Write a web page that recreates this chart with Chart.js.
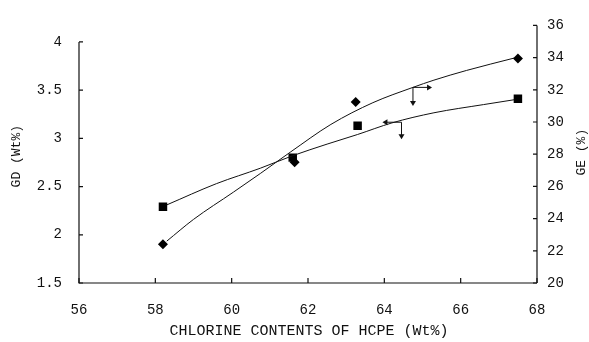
<!DOCTYPE html>
<html><head><meta charset="utf-8">
<script src="https://cdn.jsdelivr.net/npm/chart.js@4/dist/chart.umd.min.js"></script>
<style>html,body{margin:0;padding:0;background:#fff}#wrap{width:589px;height:342px;position:relative}</style>
</head><body><div id="wrap"><canvas id="c"></canvas></div>
<script>
// ---- data ----
const chlorineGD = [58.2, 61.6, 63.3, 67.5];
const gdValues   = [2.29, 2.80, 3.13, 3.41];
const chlorineGE = [58.2, 61.65, 63.25, 67.5];
const geValues   = [22.4, 27.5, 31.25, 33.95];
// trend curves
const gdTrendX = [58.3, 59.6, 60.75, 61.6, 62.5, 63.3, 64.2, 65.3, 66.6, 67.4];
const gdTrendY = [2.31, 2.53, 2.69, 2.82, 2.94, 3.04, 3.16, 3.265, 3.35, 3.40];
const geTrendX = [58.3, 59.0, 60.05, 60.75, 61.55, 62.6, 63.7, 64.75, 65.3, 66.15, 67.4];
const geTrendY = [22.6, 23.95, 25.65, 26.8, 28.15, 29.85, 31.2, 32.15, 32.6, 33.2, 33.97];
// axis ticks
const xTicks  = [56, 58, 60, 62, 64, 66, 68];
const gdTicks = [1.5, 2, 2.5, 3, 3.5, 4];
const geTicks = [20, 22, 24, 26, 28, 30, 32, 34, 36];
// texts
const xTitle  = 'CHLORINE CONTENTS OF HCPE (Wt%)';
const gdTitle = 'GD (Wt%)';
const geTitle = 'GE (%)';
// axis-pointer arrows (data units)
const gdArrowX = [64.45, 63.95];  // vertical x, horizontal end x
const gdArrowY = [3.167, 2.99];   // level, bottom
const geArrowX = [64.75, 65.25];
const geArrowY = [32.15, 31.0];

const FONT = "'Liberation Mono', 'DejaVu Sans Mono', monospace";
const INK = '#111';

const pts = (xs, ys) => xs.map((x, i) => ({x, y: ys[i]}));

function arrowHead(ctx, x, y, dir) {
  const L = 5, W = 3;
  ctx.beginPath();
  if (dir === 'down') { ctx.moveTo(x, y); ctx.lineTo(x - W, y - L); ctx.lineTo(x + W, y - L); }
  if (dir === 'left') { ctx.moveTo(x, y); ctx.lineTo(x + L, y - W); ctx.lineTo(x + L, y + W); }
  if (dir === 'right') { ctx.moveTo(x, y); ctx.lineTo(x - L, y - W); ctx.lineTo(x - L, y + W); }
  ctx.closePath(); ctx.fill();
}

const decor = {
  id: 'decor',
  afterDraw(chart) {
    const ctx = chart.ctx, a = chart.chartArea;
    const sx = chart.scales.x, sl = chart.scales.yGD, sr = chart.scales.yGE;
    ctx.save();
    ctx.strokeStyle = INK; ctx.fillStyle = INK; ctx.lineWidth = 1.2;
    // axis lines
    const yTop4 = sl.getPixelForValue(gdTicks[gdTicks.length - 1]);
    ctx.beginPath();
    ctx.moveTo(a.left, yTop4); ctx.lineTo(a.left, a.bottom);
    ctx.lineTo(a.right, a.bottom);
    ctx.moveTo(a.right, a.bottom); ctx.lineTo(a.right, a.top);
    ctx.stroke();
    // inward ticks
    ctx.beginPath();
    xTicks.forEach(v => { const p = sx.getPixelForValue(v); ctx.moveTo(p, a.bottom); ctx.lineTo(p, a.bottom - 5); });
    gdTicks.forEach(v => { const p = sl.getPixelForValue(v); ctx.moveTo(a.left, p); ctx.lineTo(a.left + 4, p); });
    geTicks.forEach(v => { const p = sr.getPixelForValue(v); ctx.moveTo(a.right, p); ctx.lineTo(a.right - 4, p); });
    ctx.stroke();
    // arrows
    ctx.lineWidth = 1;
    let x0 = sx.getPixelForValue(gdArrowX[0]), x1 = sx.getPixelForValue(gdArrowX[1]);
    let y0 = sl.getPixelForValue(gdArrowY[0]), y1 = sl.getPixelForValue(gdArrowY[1]);
    ctx.beginPath(); ctx.moveTo(x0, y0); ctx.lineTo(x0, y1 - 3); ctx.moveTo(x0, y0); ctx.lineTo(x1 + 3, y0); ctx.stroke();
    arrowHead(ctx, x0, y1, 'down'); arrowHead(ctx, x1, y0, 'left');
    x0 = sx.getPixelForValue(geArrowX[0]); x1 = sx.getPixelForValue(geArrowX[1]);
    y0 = sr.getPixelForValue(geArrowY[0]); y1 = sr.getPixelForValue(geArrowY[1]);
    ctx.beginPath(); ctx.moveTo(x0, y0); ctx.lineTo(x0, y1 - 3); ctx.moveTo(x0, y0); ctx.lineTo(x1 - 3, y0); ctx.stroke();
    arrowHead(ctx, x0, y1, 'down'); arrowHead(ctx, x1, y0, 'right');
    // titles
    ctx.textAlign = 'center'; ctx.textBaseline = 'middle';
    ctx.font = '15px ' + FONT;
    ctx.fillText(xTitle, (a.left + a.right) / 2 + 1, a.bottom + 48);
    ctx.font = '13px ' + FONT;
    ctx.save(); ctx.translate(17, (a.top + a.bottom) / 2 + 2); ctx.rotate(-Math.PI / 2); ctx.fillText(gdTitle, 0, 0); ctx.restore();
    ctx.save(); ctx.translate(a.right + 45, (a.top + a.bottom) / 2 - 2); ctx.rotate(-Math.PI / 2); ctx.fillText(geTitle, 0, 0); ctx.restore();
    ctx.restore();
  }
};

const tickFont = {family: FONT, size: 14};
const plainLabel = v => String(v);

new Chart(document.getElementById('c'), {
  type: 'line',
  data: {
    datasets: [
      {data: pts(gdTrendX, gdTrendY), yAxisID: 'yGD', borderColor: INK, borderWidth: 1, pointRadius: 0, cubicInterpolationMode: 'monotone', fill: false},
      {data: pts(geTrendX, geTrendY), yAxisID: 'yGE', borderColor: INK, borderWidth: 1, pointRadius: 0, cubicInterpolationMode: 'monotone', fill: false},
      {data: pts(chlorineGD, gdValues), yAxisID: 'yGD', showLine: false, pointStyle: 'rect', pointRadius: 6, pointBackgroundColor: '#000', pointBorderColor: '#000', pointBorderWidth: 0},
      {data: pts(chlorineGE, geValues), yAxisID: 'yGE', showLine: false, pointStyle: 'rectRot', pointRadius: 5, pointBackgroundColor: '#000', pointBorderColor: '#000', pointBorderWidth: 0}
    ]
  },
  options: {
    responsive: true, maintainAspectRatio: false, animation: false,
    layout: {padding: {top: 17, left: 0, right: 0, bottom: 0}},
    plugins: {legend: {display: false}, tooltip: {enabled: false}},
    scales: {
      x: {
        type: 'linear', min: xTicks[0], max: xTicks[xTicks.length - 1],
        afterBuildTicks: s => { s.ticks = xTicks.map(v => ({value: v})); },
        afterFit: s => { s.height = 59; },
        grid: {display: false, drawTicks: false}, border: {display: false},
        ticks: {font: tickFont, color: INK, padding: 19, maxRotation: 0, callback: plainLabel}
      },
      yGD: {
        type: 'linear', position: 'left', min: 1.5, max: 4.171,
        afterBuildTicks: s => { s.ticks = gdTicks.map(v => ({value: v})); },
        afterFit: s => { s.width = 79; },
        grid: {display: false, drawTicks: false}, border: {display: false},
        ticks: {font: tickFont, color: INK, padding: 17, callback: plainLabel}
      },
      yGE: {
        type: 'linear', position: 'right', min: 20, max: 36,
        afterBuildTicks: s => { s.ticks = geTicks.map(v => ({value: v})); },
        afterFit: s => { s.width = 52; },
        grid: {display: false, drawTicks: false}, border: {display: false},
        ticks: {font: tickFont, color: INK, padding: 10, callback: plainLabel}
      }
    }
  },
  plugins: [decor]
});
</script>
</body></html>
